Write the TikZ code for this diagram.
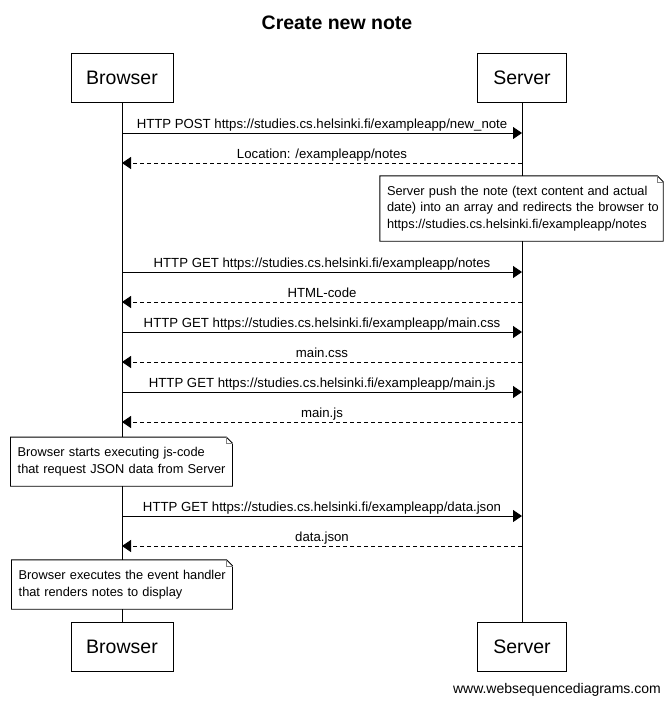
\documentclass[tikz,border=0pt]{standalone}
\usepackage{fontspec}
\setmainfont{Liberation Sans}
\usepackage{tikz}
\usetikzlibrary{arrows.meta}
\tikzset{actor/.style = {draw, line width=0.9pt, minimum height=49pt, inner sep=0pt,
                         font=\fontsize{19.5}{23}\selectfont},
         req/.style   = {line width=0.9pt, -{Triangle[length=9pt,width=12pt]}},
         resp/.style  = {req, dash pattern=on 4pt off 3pt},
         msg/.style   = {anchor=base, yshift=5pt, inner sep=0pt,
                         font=\fontsize{13.2}{16}\selectfont},
         memo/.style  = {fill=white, inner xsep=7pt, inner ysep=0pt, align=left,
                         font=\fontsize{12.8}{16.5}\selectfont}}

\begin{document}
\begin{tikzpicture}[x=1pt, y=-1pt]
      \useasboundingbox (0, 0) rectangle (672, 705);

      \node (title) at (337, 23) {\fontsize{19.5}{23}\selectfont\bfseries Create new note};

      \node [actor, minimum width=102pt] (browserTop) at (122, 78) {Browser};
      \node [actor, minimum width=89.5pt] (serverTop) at (522, 78) {Server};
      \node [actor, minimum width=102pt] (browserBot) at (122, 647) {Browser};
      \node [actor, minimum width=89.5pt] (serverBot) at (522, 647) {Server};

      \draw [line width=0.9pt] (browserTop) -- (browserBot);
      \draw [line width=0.9pt] (serverTop) -- (serverBot);

      \foreach \n/\y in {1/133,2/163,3/272,4/302,5/332,6/362,7/392,8/422,9/516,10/546} {
        \coordinate (b\n) at (122, \y);
        \coordinate (s\n) at (522, \y);
      }

      \draw [req] (b1) -- node [msg] {HTTP POST https://studies.cs.helsinki.fi/exampleapp/new\_note} (s1);
      \draw [resp] (s2) -- node [msg] {Location: /exampleapp/notes} (b2);
      \draw [req] (b3) -- node [msg] {HTTP GET https://studies.cs.helsinki.fi/exampleapp/notes} (s3);
      \draw [resp] (s4) -- node [msg] {HTML-code} (b4);
      \draw [req] (b5) -- node [msg] {HTTP GET https://studies.cs.helsinki.fi/exampleapp/main.css} (s5);
      \draw [resp] (s6) -- node [msg] {main.css} (b6);
      \draw [req] (b7) -- node [msg] {HTTP GET https://studies.cs.helsinki.fi/exampleapp/main.js} (s7);
      \draw [resp] (s8) -- node [msg] {main.js} (b8);
      \draw [req] (b9) -- node [msg] {HTTP GET https://studies.cs.helsinki.fi/exampleapp/data.json} (s9);
      \draw [resp] (s10) -- node [msg] {data.json} (b10);

      \node [memo, text width=269pt, minimum height=65pt] (note1) at (521.5, 208.5)
        {\mbox{Server push the note (text content and actual}\\
         \mbox{date) into an array and redirects the browser to}\\
         \mbox{https://studies.cs.helsinki.fi/exampleapp/notes}};
      \node [memo, text width=207.6pt, minimum height=48.7pt] (note2) at (121.5, 461.7)
        {\mbox{Browser starts executing js-code}\\
         \mbox{that request JSON data from Server}};
      \node [memo, text width=206.6pt, minimum height=49pt] (note3) at (122, 584.5)
        {\mbox{Browser executes the event handler}\\
         \mbox{that renders notes to display}};

      \foreach \n in {note1,note2,note3} {
        \draw [line width=0.9pt] (\n.north west) -- ([xshift=-6pt]\n.north east)
          -- ([yshift=-6pt]\n.north east) -- (\n.south east) -- (\n.south west) -- cycle;
        \draw [gray] ([xshift=-6pt]\n.north east) |- ([yshift=-6pt]\n.north east);
      }

      \node [anchor=base east, inner sep=0pt, font=\fontsize{14}{17}\selectfont] (credit)
        at (661, 693) {www.websequencediagrams.com};
    \end{tikzpicture}
\end{document}
